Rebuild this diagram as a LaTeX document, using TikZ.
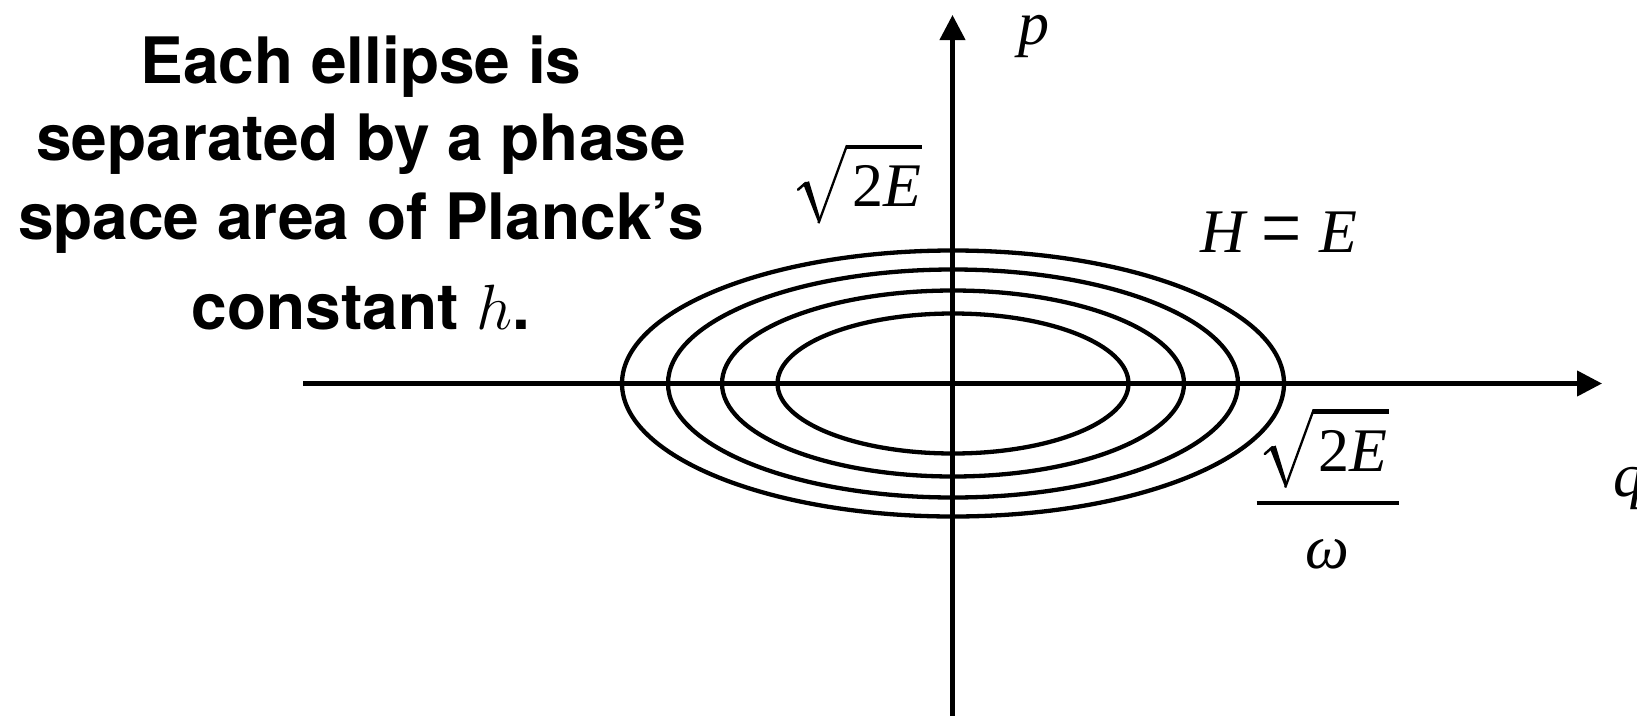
\RequirePackage{fix-cm}
\documentclass[tikz,border=0pt]{standalone}
\usepackage{fontspec}
\setmainfont{Liberation Serif}
\newfontfamily\helv{TeX Gyre Heros}
\newfontfamily\tnr{Liberation Serif}
\usetikzlibrary{arrows.meta}
\tikzset{
  axis/.style={line width=4.3pt,-{Triangle[length=25pt,width=25pt]}},
  orbit/.style={line width=4.3pt},
  note/.style={font=\helv\bfseries\fontsize{64}{70}\selectfont,anchor=base,inner sep=0pt},
  lab/.style={font=\tnr\fontsize{62}{62}\selectfont,anchor=base,inner sep=0pt},
}
% radical sign drawn in front of a node holding the radicand
\newcommand\radicalfor[1]{%
  \begin{scope}[shift={(#1.base west)}]
    \draw[line width=2.5pt,line cap=round] (-54,-17) -- (-46,-24);
    \fill (-49,-23) -- (-43,-25.5) -- (-31.5,13) -- (-33.5,16.5) -- cycle;
    \draw[line width=2.3pt] (-33.5,16.5) -- (-5,-61.5);
    \draw[line width=4.3pt] (-6,-59.5) -- (70,-59.5);
  \end{scope}}
\begin{document}
\begin{tikzpicture}[x=1pt,y=-1pt]
\useasboundingbox (0,0) rectangle (1637,715);
% axes
\coordinate (vb) at (952.5,720);
\coordinate (vt) at (952.5,15);
\coordinate (hl) at (303,383.5);
\coordinate (hr) at (1602,383.5);
\draw[axis] (vb) -- (vt);
\draw[axis] (hl) -- (hr);
% ellipses
\coordinate (o) at (953,383.5);
\draw[orbit] (o) ellipse [x radius=331pt, y radius=133pt];
\draw[orbit] (o) ellipse [x radius=285pt, y radius=114pt];
\draw[orbit] (o) ellipse [x radius=231pt, y radius=93pt];
\draw[orbit] (o) ellipse [x radius=175.5pt, y radius=70pt];
% left text
\node[note] (t1) at (361,83) {Each ellipse is};
\node[note] (t2) at (361,160.5) {separated by a phase};
\node[note] (t3) at (361,239) {space area of Planck’s};
\node[note] (t4) at (361,329) {constant $h$.};
% labels
\node[lab] (p) at (1034,44) {\itshape p};
\node[lab,anchor=base west] (pE) at (852,206.7) {2\itshape E};
\radicalfor{pE}
\node[lab,anchor=base west] (HE) at (1200,252.7) {\itshape H\kern17pt\upshape\raisebox{-7pt}{\scalebox{1.15}[1.5]{=}}\kern17pt\itshape E};
\node[lab,anchor=base west] (num) at (1318.7,471) {2\itshape E};
\radicalfor{num}
\coordinate (fl) at (1256.7,503);
\coordinate (fr) at (1398.5,503);
\draw[line width=4.7pt] (fl) -- (fr);
\node[lab] (den) at (1327,568.3) {\itshape ω};
\node[lab,anchor=base west] (q) at (1613,496) {\itshape q};
\end{tikzpicture}
\end{document}
